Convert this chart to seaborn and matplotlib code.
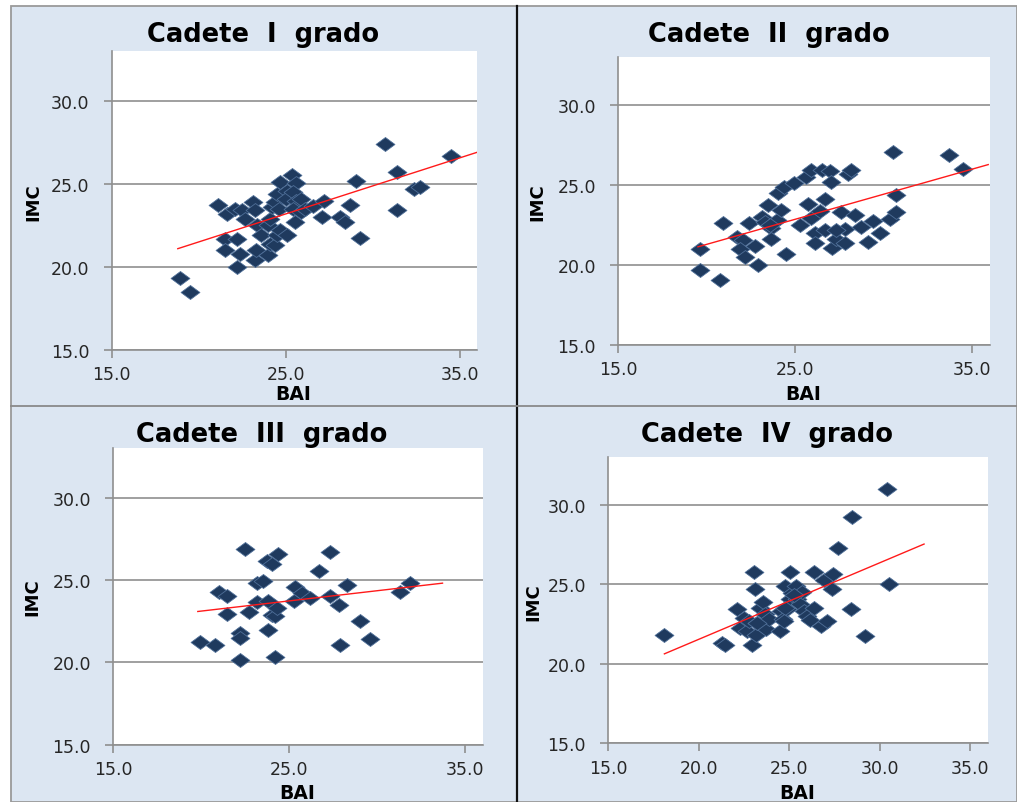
import numpy as np
import pandas as pd
import matplotlib
matplotlib.use("Agg")
import matplotlib.pyplot as plt
import seaborn as sns
from matplotlib.path import Path
from matplotlib.patches import Rectangle
from matplotlib.lines import Line2D

# ---------------- data ----------------
titles = ["Cadete  I  grado", "Cadete  II  grado", "Cadete  III  grado", "Cadete  IV  grado"]
x_label = "BAI"
y_label = "IMC"

bai_1 = [18.9, 19.5, 21.13, 21.6, 22.1, 22.5, 23.15, 23.25, 22.67, 23.34, 21.5, 22.2, 21.5, 22.4,
         22.2, 23.25, 23.6, 23.3, 24.0, 24.1, 24.4, 24.5, 24.7, 25.07, 24.0, 24.1, 24.2, 24.4, 24.6,
         24.5, 24.7, 25.07, 25.0, 25.36, 25.6, 25.45, 25.6, 25.9, 25.45, 25.9, 25.55, 26.1, 26.6,
         27.2, 27.1, 28.1, 28.4, 28.7, 29.05, 29.3, 30.7, 31.4, 31.4, 32.4, 32.7, 34.5]
imc_1 = [19.35, 18.5, 23.73, 23.2, 23.5, 23.45, 23.9, 23.4, 22.9, 22.5, 21.7, 21.7, 21.0, 20.76,
         20.0, 20.4, 21.9, 21.0, 20.7, 21.4, 21.3, 21.9, 22.2, 21.9, 22.5, 22.9, 23.6, 23.9, 23.5,
         24.4, 25.1, 24.6, 24.1, 25.54, 25.04, 24.5, 24.0, 24.1, 23.5, 23.3, 22.7, 23.5, 23.65,
         24.0, 23.0, 23.0, 22.7, 23.7, 25.2, 21.75, 27.4, 25.7, 23.4, 24.7, 24.8, 26.65]

bai_2 = [19.6, 19.6, 20.74, 20.93, 21.7, 22.06, 21.87, 22.15, 22.4, 22.7, 22.9, 23.1, 23.28, 23.47,
         23.65, 23.65, 23.94, 24.0, 24.2, 24.35, 24.5, 24.9, 25.25, 25.6, 25.7, 25.9, 25.9, 26.1,
         26.1, 26.4, 26.5, 26.7, 26.7, 26.95, 27.04, 27.1, 27.3, 27.6, 27.8, 27.8, 27.98, 28.17,
         28.36, 28.7, 29.1, 29.4, 29.77, 30.33, 30.5, 30.67, 30.7, 33.68, 34.5, 23.56, 27.3]
imc_2 = [21.0, 19.66, 19.08, 22.6, 21.76, 21.55, 21.0, 20.48, 22.6, 21.2, 19.98, 23.0, 22.7, 23.76,
         22.33, 21.64, 22.8, 24.47, 23.45, 24.9, 20.65, 25.1, 22.5, 25.5, 23.8, 25.95, 22.96, 22.0,
         21.4, 23.4, 25.97, 22.2, 24.1, 25.9, 25.17, 21.07, 21.6, 23.28, 22.27, 21.4, 25.7, 25.97,
         23.13, 22.4, 21.43, 22.75, 22.0, 22.9, 27.1, 23.3, 24.4, 26.85, 26.0, 22.5, 22.2]

bai_3 = [19.93, 20.78, 21.03, 21.45, 21.45, 22.17, 22.17, 22.2, 22.49, 22.68, 23.15, 23.19, 23.53,
         23.72, 23.8, 23.8, 24.0, 24.0, 24.19, 24.29, 24.38, 24.19, 25.24, 25.33, 25.7, 26.18, 26.66,
         27.32, 27.32, 27.8, 27.9, 28.27, 29.03, 29.6, 31.3, 31.83]
imc_3 = [21.25, 21.07, 24.3, 24.04, 22.93, 21.8, 21.5, 20.14, 26.87, 23.03, 24.85, 23.64, 24.95,
         26.16, 23.74, 21.98, 25.96, 22.87, 22.83, 23.33, 26.57, 20.3, 23.74, 24.55, 24.24, 23.88,
         25.52, 26.7, 24.04, 23.5, 21.07, 24.69, 22.53, 21.4, 24.3, 24.85]

bai_4 = [18.1, 21.28, 21.46, 22.1, 22.3, 22.48, 22.66, 22.8, 22.94, 23.03, 23.13, 23.16, 23.2, 23.4,
         23.55, 23.68, 23.73, 23.86, 24.5, 24.55, 24.66, 24.79, 24.88, 25.06, 25.06, 25.16, 25.4,
         25.43, 25.6, 25.7, 25.8, 25.99, 26.17, 26.36, 26.36, 26.73, 26.9, 27.1, 27.37, 27.43, 27.69,
         28.39, 28.48, 29.16, 30.38, 30.5, 24.78, 25.25, 24.7, 23.22]
imc_4 = [21.81, 21.29, 21.2, 23.44, 22.23, 22.9, 22.08, 22.7, 21.2, 25.8, 24.69, 21.81, 22.6, 23.54,
         23.92, 23.13, 22.19, 22.8, 22.04, 23.33, 22.8, 24.9, 23.48, 25.8, 24.06, 24.48, 24.9,
         24.06, 23.75, 24.52, 23.33, 23.02, 22.77, 25.8, 23.54, 22.4, 25.27, 22.7, 24.69, 25.63, 27.29,
         23.44, 29.23, 21.73, 30.98, 25.04, 23.53, 24.36, 22.69, 22.54]

# trend lines (endpoints in data units)
trend_bai = [[18.8, 36.0], [19.5, 35.9], [19.8, 33.7], [18.1, 32.45]]
trend_imc = [[21.1, 26.9], [21.13, 26.28], [23.09, 24.81], [20.63, 27.54]]

x_ticks = [[15, 25, 35], [15, 25, 35], [15, 25, 35], [15, 20, 25, 30, 35]]
y_ticks = [15, 20, 25, 30]
x_lim = (15, 36)
y_lim = (15, 33)

panels = [(bai_1, imc_1), (bai_2, imc_2), (bai_3, imc_3), (bai_4, imc_4)]

# ---------------- layout ----------------
W, H = 1017, 803
fig = plt.figure(figsize=(W / 100, H / 100), dpi=100)
fig.patch.set_facecolor("white")

BG = "#dce6f2"
GRID = "#8f8f8f"
TXT = "#262626"

# chart background + borders
fig.patches.append(Rectangle((11 / W, 0), 1 - 11 / W, 1 - 7 / H, transform=fig.transFigure,
                             facecolor=BG, edgecolor="#9a9a9a", linewidth=1.3, zorder=-10))
fig.lines.append(Line2D([517.3 / W, 517.3 / W], [0, 1 - 7 / H], transform=fig.transFigure,
                        color="#111111", linewidth=1.6))
fig.lines.append(Line2D([11 / W, 1], [1 - 406.7 / H, 1 - 406.7 / H], transform=fig.transFigure,
                        color="#8a8a8a", linewidth=1.3))

# axes rectangles in pixels: left, right, top, bottom
ax_px = [(111.7, 477, 52, 351), (618.3, 990, 58.3, 345.7),
         (113.3, 483, 449.3, 745.7), (608.3, 988.3, 458.3, 744.3)]
title_px = [(263, 35), (769, 35), (262, 435), (767, 435)]
ylab_px = [(33, 202), (537, 202), (32, 597), (533, 602)]
xlab_px = [(293, 395), (803, 395), (297, 794), (797, 794)]

diamond = Path([(-1.0, 0.0), (0.0, 0.74), (1.0, 0.0), (0.0, -0.74), (-1.0, 0.0)],
               [Path.MOVETO, Path.LINETO, Path.LINETO, Path.LINETO, Path.CLOSEPOLY])

for i, ((bx, iy), (l, r, t, b)) in enumerate(zip(panels, ax_px)):
    ax = fig.add_axes([l / W, 1 - b / H, (r - l) / W, (b - t) / H])
    ax.set_facecolor("white")
    df = pd.DataFrame({"BAI": bx, "IMC": iy})
    sns.scatterplot(data=df, x="BAI", y="IMC", ax=ax, marker=diamond, s=185,
                    color="#1f3a5e", edgecolor="#4f6f98", linewidth=0.6, zorder=3)
    tdf = pd.DataFrame({"BAI": trend_bai[i], "IMC": trend_imc[i]})
    sns.lineplot(data=tdf, x="BAI", y="IMC", ax=ax, color="#ff1a1a", linewidth=1.0, zorder=4)

    ax.set_xlim(*x_lim)
    ax.set_ylim(*y_lim)
    ax.set_xticks(x_ticks[i])
    ax.set_yticks(y_ticks)
    ax.set_xticklabels([f"{v:.1f}" for v in x_ticks[i]])
    ax.set_yticklabels([f"{v:.1f}" for v in y_ticks])
    ax.yaxis.grid(True, color=GRID, linewidth=1.2)
    ax.xaxis.grid(False)
    ax.set_axisbelow(True)
    for s in ["top", "right"]:
        ax.spines[s].set_visible(False)
    for s in ["left", "bottom"]:
        ax.spines[s].set_color(GRID)
        ax.spines[s].set_linewidth(1.2)
    ax.tick_params(axis="both", direction="out", length=6, width=1.2, color=GRID,
                   labelsize=12.5, labelcolor=TXT)
    ax.tick_params(axis="y", pad=10)
    ax.tick_params(axis="x", pad=5)
    ax.set_xlabel("")
    ax.set_ylabel("")

    tx, ty = title_px[i]
    fig.text(tx / W, 1 - ty / H, titles[i], ha="center", va="center",
             fontsize=18.5, fontweight="bold", color="black")
    lx, ly = ylab_px[i]
    fig.text(lx / W, 1 - ly / H, y_label, ha="center", va="center", rotation=90,
             fontsize=13, fontweight="bold", color="black")
    xx, xy = xlab_px[i]
    fig.text(xx / W, 1 - xy / H, x_label, ha="center", va="center",
             fontsize=13.5, fontweight="bold", color="black")

fig.savefig("out.png", dpi=100)
